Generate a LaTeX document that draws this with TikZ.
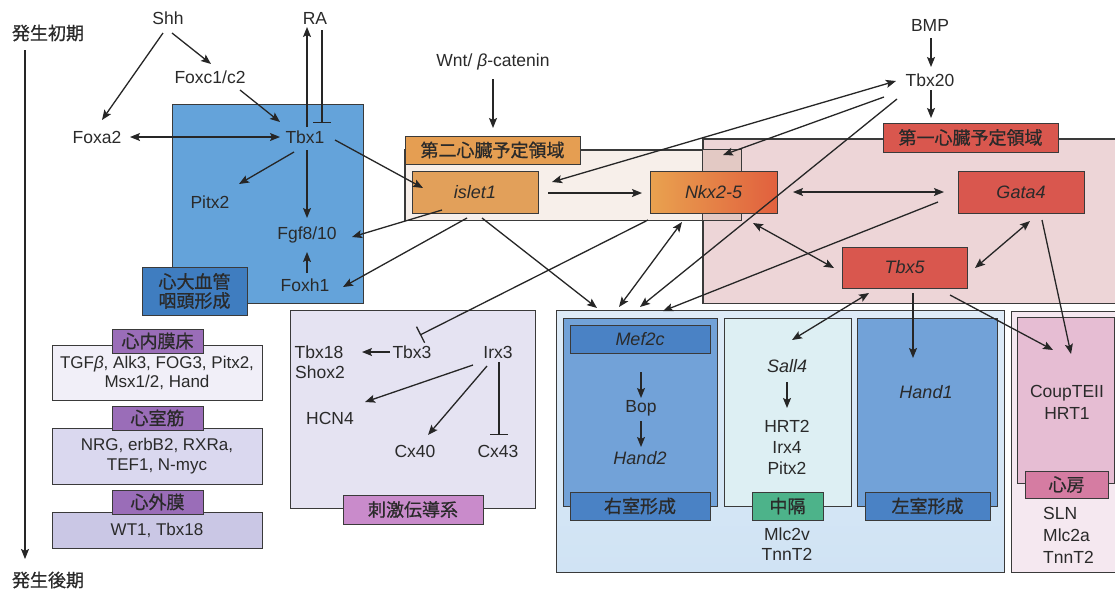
\documentclass[tikz,border=0pt]{standalone}
\usepackage{fontspec}
\setmainfont{Liberation Sans}
\newfontfamily\jp[FakeBold=0.7]{Noto Sans CJK JP}
\usetikzlibrary{arrows.meta,calc}
\definecolor{txt}{HTML}{2A2A2A}
\definecolor{ln}{HTML}{262626}
\definecolor{bd}{HTML}{3A3A3A}
\definecolor{fhf}{HTML}{EDD5D7}
\definecolor{shf}{HTML}{F7EFEA}
\definecolor{ovl}{HTML}{E3C9C4}
\definecolor{orng}{HTML}{E2A05A}
\definecolor{orlab}{HTML}{E59E52}
\definecolor{nkxl}{HTML}{E9A24F}
\definecolor{nkxr}{HTML}{E1603E}
\definecolor{redb}{HTML}{D9574E}
\definecolor{tbxblue}{HTML}{64A3DA}
\definecolor{cvblue}{HTML}{3F7DC0}
\definecolor{purp}{HTML}{9A6DB8}
\definecolor{lb1}{HTML}{F1EFF8}
\definecolor{lb2}{HTML}{DAD8EF}
\definecolor{lb3}{HTML}{CAC7E5}
\definecolor{cond}{HTML}{E5E3F2}
\definecolor{condlab}{HTML}{C98BCB}
\definecolor{vout}{HTML}{D0E3F4}
\definecolor{vin}{HTML}{72A2D8}
\definecolor{vlab}{HTML}{4A82C5}
\definecolor{sept}{HTML}{DDEFF3}
\definecolor{septlab}{HTML}{4DB38A}
\definecolor{aout}{HTML}{F5E8F0}
\definecolor{ain}{HTML}{E6BDD3}
\definecolor{alab}{HTML}{D57CA2}
\begin{document}
\begin{tikzpicture}[x=1pt,y=-1pt,
  every node/.style={text=txt},
  g/.style={font=\fontsize{17.5}{20}\selectfont, inner sep=0pt, align=center},
  gi/.style={font=\fontsize{18}{21}\selectfont\itshape, inner sep=0pt},
  jl/.style={font=\jp\fontsize{18}{19}\selectfont, align=center},
  bx/.style={draw=bd, line width=1pt, inner sep=0pt, rectangle},
  sz/.style 2 args={minimum width=#1, minimum height=#2},
  tip/.tip={Stealth[length=10pt,width=8pt,inset=2pt]},
  arr/.style={draw=ln, line width=1.3pt, -tip},
  darr/.style={draw=ln, line width=1.3pt, tip-tip},
  inh/.style={draw=ln, line width=1.3pt, -{Bar[width=18pt,line width=1.3pt]}},
]
\useasboundingbox (0,0) rectangle (1115,590);
\fill[white] (0,0) rectangle (1115,590);

% heart fields
\node[bx, fill=fhf, sz={422}{164}] (fhfF) at (914,221) {};
\node[bx, fill=shf, sz={336}{70}] (shfF) at (573,185) {};
\fill[ovl] (fhfF.west |- shfF.north) rectangle (shfF.south east);
\draw[draw=bd, line width=1pt] (fhfF.north west) rectangle (fhfF.south east);
\draw[draw=bd, line width=1pt] (shfF.north west) rectangle (shfF.south east);
\node[bx, fill=redb, sz={175}{29}, jl] (fhfL) at (970.5,137.5) {第一心臓予定領域};
\node[bx, fill=orlab, sz={175}{28}, jl] (shfL) at (492.5,150) {第二心臓予定領域};
\node[bx, fill=orng, sz={126}{42}, gi] (islet) at (475,192) {islet1};
\node[bx, left color=nkxl, right color=nkxr, sz={127}{42}, gi] (nkx) at (713.5,192) {Nkx2-5};
\node[bx, fill=redb, sz={126}{42}, gi] (gata) at (1021,192) {Gata4};
\node[bx, fill=redb, sz={125}{41}, gi] (tbx5) at (904.5,267.5) {Tbx5};

% Tbx1 region
\node[bx, fill=tbxblue, sz={191}{199}] (tbxreg) at (267.5,203.5) {};
\node[bx, fill=cvblue, sz={105}{48}, jl] (cv) at (194.5,291) {心大血管\\咽頭形成};

% left stack
\node[bx, fill=lb1, sz={210}{55}, g, font=\fontsize{17}{19.5}\selectfont] (box1) at (157,373) {TGF{\itshape β}, Alk3, FOG3, Pitx2,\\Msx1/2, Hand};
\node[bx, fill=purp, sz={91}{24}, jl] (lab1) at (157.5,341) {心内膜床};
\node[bx, fill=lb2, sz={210}{56}, g, font=\fontsize{17}{19.5}\selectfont] (box2) at (157,456) {NRG, erbB2, RXRa,\\TEF1, N-myc};
\node[bx, fill=purp, sz={91}{24}, jl] (lab2) at (157.5,418) {心室筋};
\node[bx, fill=lb3, sz={210}{36}, g, font=\fontsize{17}{19.5}\selectfont] (box3) at (157,530) {WT1, Tbx18};
\node[bx, fill=purp, sz={91}{24}, jl] (lab3) at (157.5,502) {心外膜};

% conduction system
\node[bx, fill=cond, sz={245}{198}] (condB) at (412.5,409) {};
\node[bx, fill=condlab, sz={140}{29}, jl] (condL) at (413,509.5) {刺激伝導系};

% ventricles
\node[bx, top color=vout!70!white, bottom color=vout, sz={448}{262}] (vent) at (780,441) {};
\node[bx, fill=vin, sz={154}{188}] (rv) at (640,412) {};
\node[bx, fill=vlab, sz={140}{28}, gi] (mef2c) at (640,339) {Mef2c};
\node[bx, fill=vlab, sz={140}{28}, jl] (rvL) at (640,506) {右室形成};
\node[bx, fill=sept, sz={127}{188}] (sep) at (787.5,412) {};
\node[bx, fill=septlab, sz={71}{28}, jl] (sepL) at (787.5,506) {中隔};
\node[bx, fill=vin, sz={140}{188}] (lv) at (927,412) {};
\node[bx, fill=vlab, sz={125}{28}, jl] (lvL) at (927.5,506) {左室形成};

% atrium
\node[bx, fill=aout, sz={109}{261}] (aoutB) at (1065.5,441.5) {};
\node[bx, fill=ain, sz={97}{166}] (ainB) at (1065.5,400) {};
\node[bx, fill=alab, sz={83}{27}, jl] (aL) at (1066.5,484.5) {心房};

% timeline
\node[jl, inner sep=0pt] (early) at (48,33) {発生初期};
\node[jl, inner sep=0pt] (late) at (48,580) {発生後期};

% gene texts
\node[g] (Shh) at (168,18) {Shh};
\node[g] (RA) at (315,18) {RA};
\node[g] (Foxc) at (210,77) {Foxc1/c2};
\node[g] (Foxa2) at (97,137) {Foxa2};
\node[g] (Tbx1) at (305,137) {Tbx1};
\node[g] (Pitx2a) at (210,202) {Pitx2};
\node[g] (Fgf) at (307,235) {Fgf8/10};
\node[g] (Foxh1) at (305,285) {Foxh1};
\node[g] (Wnt) at (493,62) {Wnt/ {\itshape β}-catenin};
\node[g] (BMP) at (930,25) {BMP};
\node[g] (Tbx20) at (930,80) {Tbx20};

\node[g] (Tbx18) at (319,352) {Tbx18};
\node[g] (Shox2) at (320,372) {Shox2};
\node[g] (Tbx3) at (412,352) {Tbx3};
\node[g] (Irx3) at (498,352) {Irx3};
\node[g] (HCN4) at (330,418) {HCN4};
\node[g] (Cx40) at (415,451) {Cx40};
\node[g] (Cx43) at (498,451) {Cx43};

\node[g] (Bop) at (641,408) {Bop};
\node[gi] (Hand2) at (640,458) {Hand2};
\node[gi] (Sall4) at (787,366) {Sall4};
\node[g] (HRT2) at (787,426) {HRT2};
\node[g] (Irx4) at (787,447) {Irx4};
\node[g] (Pitx2b) at (787,468) {Pitx2};
\node[g] (Mlc2v) at (787,534) {Mlc2v};
\node[g] (TnnT2a) at (787,554) {TnnT2};
\node[gi] (Hand1) at (926,392) {Hand1};
\node[g] (Coup) at (1067,393) {CoupTEII};
\node[g] (HRT1) at (1067,413) {HRT1};
\node[g, anchor=west] (SLN) at (1043,513) {SLN};
\node[g, anchor=west] (Mlc2a) at (1043,535) {Mlc2a};
\node[g, anchor=west] (TnnT2b) at (1043,557) {TnnT2};

% connectors
\draw[arr] ($(early)+(-23,17)$) -- ($(late)+(-23,-21)$);
\draw[arr] ($(Shh)+(-5,15)$) -- ($(Foxa2)+(5,-17)$);
\draw[arr] ($(Shh)+(4,15)$) -- ($(Foxc)+(1,-13)$);
\draw[arr] ($(Foxc)+(30,13)$) -- ($(Tbx1)+(-25,-15)$);
\draw[darr] ($(Foxa2)+(33,0)$) -- ($(Tbx1)+(-25,0)$);
\draw[arr] ($(Tbx1)+(2,-10)$) -- ($(RA)+(-8,9)$);
\draw[inh] ($(RA)+(7,12)$) -- ($(Tbx1)+(17,-14)$);
\draw[arr] ($(Tbx1)+(-11,15)$) -- ($(Pitx2a)+(29,-18)$);
\draw[arr] ($(Tbx1)+(2,13)$) -- ($(Fgf)+(0,-17)$);
\draw[arr] ($(Foxh1)+(2,-12)$) -- ($(Fgf)+(0,17)$);
\draw[arr] ($(Tbx1)+(30,3)$) -- ($(islet)+(-52,-4)$);
\draw[arr] ($(Wnt)+(0,17)$) -- ($(shfL)+(0.5,-22)$);
\draw[arr] ($(islet)+(73,1)$) -- ($(nkx)+(-71.5,1)$);
\draw[arr] ($(islet)+(-33,18)$) -- ($(Fgf)+(45,2)$);
\draw[arr] ($(islet)+(-8,26)$) -- ($(Foxh1)+(38,2)$);
\draw[arr] ($(islet)+(7,26)$) -- ($(rv)+(-43,-104)$);
\draw[inh] ($(nkx)+(-65.5,28)$) -- ($(Tbx3)+(8,-17)$);
\draw[darr] ($(nkx)+(-31.5,30)$) -- ($(rv)+(-21,-105)$);
\draw[darr] ($(Tbx20)+(-34,1)$) -- ($(islet)+(77,-10)$);
\draw[arr] ($(Tbx20)+(-46,17)$) -- ($(nkx)+(9.5,-37)$);
\draw[arr] ($(Tbx20)+(-33,19)$) -- ($(rv)+(0,-105)$);
\draw[arr] ($(BMP)+(1,13)$) -- ($(Tbx20)+(1,-13)$);
\draw[arr] ($(Tbx20)+(1,10)$) -- ($(fhfL)+(-39.5,-19.5)$);
\draw[darr] ($(nkx)+(79.5,0)$) -- ($(gata)+(-77,0)$);
\draw[arr] ($(gata)+(-83,10)$) -- ($(rv)+(23,-101)$);
\draw[darr] ($(nkx)+(39.5,31)$) -- ($(tbx5)+(-70.5,0.5)$);
\draw[darr] ($(gata)+(9,29)$) -- ($(tbx5)+(70.5,0.5)$);
\draw[arr] ($(gata)+(21,28)$) -- ($(Coup)+(4,-39)$);
\draw[darr] ($(tbx5)+(-35.5,25.5)$) -- ($(Sall4)+(5,-26)$);
\draw[arr] ($(tbx5)+(8.5,25.5)$) -- ($(Hand1)+(-13,-34)$);
\draw[arr] ($(tbx5)+(45.5,27.5)$) -- ($(Coup)+(-14,-43)$);
\draw[arr] ($(mef2c)+(1,33)$) -- ($(Bop)+(0,-10)$);
\draw[arr] ($(Bop)+(0,13)$) -- ($(Hand2)+(1,-11)$);
\draw[arr] ($(Sall4)+(0,16)$) -- ($(HRT2)+(0,-18)$);
\draw[arr] ($(Tbx3)+(-22,0)$) -- ($(Tbx18)+(43,0)$);
\draw[arr] ($(Irx3)+(-25,13)$) -- ($(HCN4)+(35,-16)$);
\draw[arr] ($(Irx3)+(-11,14)$) -- ($(Cx40)+(13,-16)$);
\draw[inh] ($(Irx3)+(1,10)$) -- ($(Cx43)+(1,-16)$);
\end{tikzpicture}
\end{document}
